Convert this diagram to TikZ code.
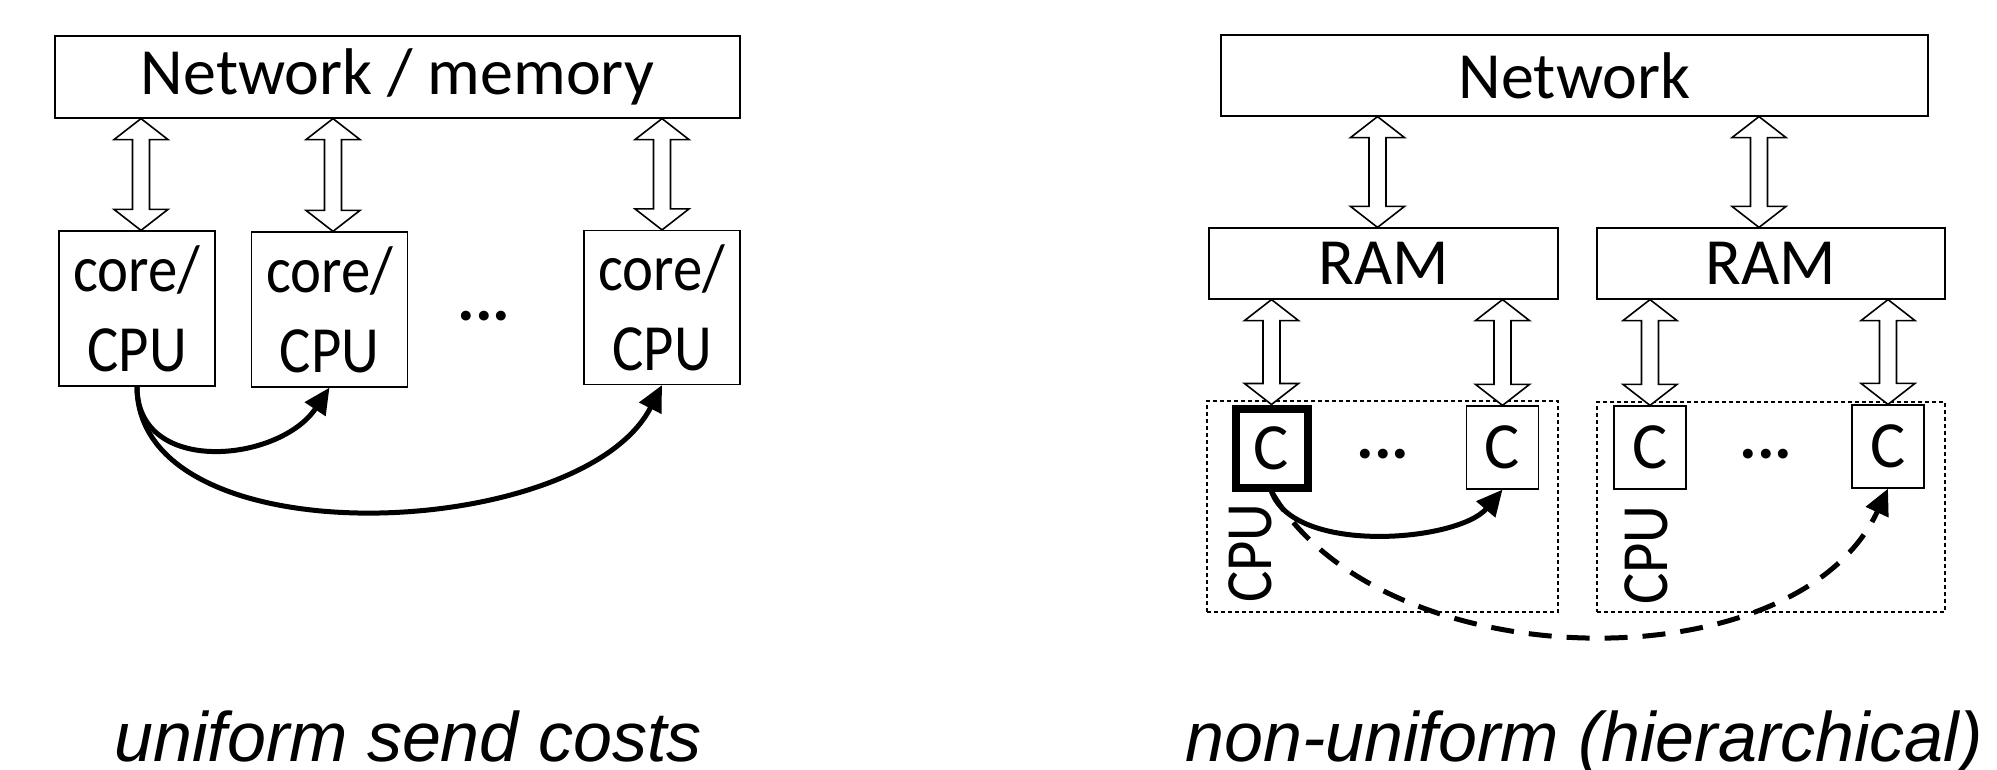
\documentclass[tikz,border=0pt]{standalone}
\usepackage{fontspec}
\setmainfont{Carlito}
\newfontfamily\capfont{Liberation Sans}
\usepackage{graphicx}
\usetikzlibrary{calc,arrows.meta}
\newcommand\sqz[1]{\scalebox{0.89}[1]{#1}}
% bidirectional block arrow: #1 = point on lower node, #2 = upper node border point
\newcommand\bidir[2]{%
  \draw[blockarrow] let \p1=#1, \p2=#2 in
    (\x1,\y1) -- (\x1+13.5pt,\y1+10.5pt) -- (\x1+4.25pt,\y1+10.5pt)
    -- (\x1+4.25pt,\y2-10.5pt) -- (\x1+13.5pt,\y2-10.5pt) -- (\x1,\y2)
    -- (\x1-13.5pt,\y2-10.5pt) -- (\x1-4.25pt,\y2-10.5pt)
    -- (\x1-4.25pt,\y1+10.5pt) -- (\x1-13.5pt,\y1+10.5pt) -- cycle;}
\begin{document}
\begin{tikzpicture}[x=0.5pt,y=-0.5pt,
  box/.style={draw,line width=0.6pt,fill=white,inner sep=0pt,font=\fontsize{33}{40}\selectfont},
  core/.style={box,minimum width=78pt,minimum height=77.5pt,align=center},
  cbox/.style={box,minimum width=36pt,minimum height=41.5pt},
  thickc/.style={cbox,line width=4pt,minimum height=39.5pt},
  cpugroup/.style={draw,line width=0.6pt,dash pattern=on 2pt off 1.5pt,inner sep=0pt},
  blockarrow/.style={draw,fill=white,line width=0.8pt,line join=miter},
  send/.style={line width=2.5pt,-{Triangle[length=13pt,width=12pt]}},
  remote/.style={send,dash pattern=on 11.5pt off 7.5pt},
  dots/.style={font=\fontsize{33}{40}\selectfont\bfseries,anchor=base,inner sep=0pt},
  cpulabel/.style={font=\fontsize{33}{40}\selectfont,rotate=90,inner sep=0pt},
  caption/.style={font=\fontsize{35}{42}\selectfont\capfont\itshape,anchor=base,inner sep=0pt}]
\fill[white] (0,0) rectangle (1997,770);
\useasboundingbox (0,0) rectangle (1997,770);

% ---------- left: uniform ----------
\node[box,minimum width=342.5pt,minimum height=41pt] (net1) at (397.5,77) {Network / memory};
\node[core] (c1) at (137,308.5) {\sqz{core/}\\\sqz{CPU}};
\node[core] (c2) at (329.5,309.5) {\sqz{core/}\\\sqz{CPU}};
\node[core,minimum height=77pt] (c3) at (662,307.5) {\sqz{core/}\\\sqz{CPU}};
\node[dots] (dl) at (484,321) {...};

\bidir{($(c1.north)+(4,0)$)}{(net1.south)}
\bidir{($(c2.north)+(3.5,0)$)}{(net1.south)}
\bidir{(c3.north)}{(net1.south)}

\draw[send] (c1.south) .. controls +(0,90) and +(-50,75) .. (c2.south);
\draw[send] (c1.south) .. controls +(0,175) and +(-80,157) .. (c3.south);

\node[caption] (cap1) at (408,761) {uniform send costs};

% ---------- right: hierarchical ----------
\node[box,minimum width=353.5pt,minimum height=40.5pt] (net2) at (1574.5,75.5) {Network};
\node[box,minimum width=174.5pt,minimum height=35.5pt] (ram1) at (1383.5,263.5) {RAM};
\node[box,minimum width=174pt,minimum height=35.5pt] (ram2) at (1771,263.5) {RAM};

\node[cpugroup,minimum width=175.5pt,minimum height=105.5pt] (g1) at (1382.5,506.5) {};
\node[cpugroup,minimum width=174pt,minimum height=105pt] (g2) at (1771,507) {};

\node[thickc] (k1) at (1271.5,448) {C};
\node[cbox] (k2) at (1502.5,447.5) {C};
\node[cbox] (k3) at (1650,447.5) {C};
\node[cbox] (k4) at (1888,446.5) {C};
\node[dots] (dr1) at (1383,458) {...};
\node[dots] (dr2) at (1766,458) {...};
\node[cpulabel] (p1) at (1250,553) {\sqz{CPU}};
\node[cpulabel] (p2) at (1646,555) {\sqz{CPU}};

\bidir{($(ram1.north)+(-6,0)$)}{(net2.south)}
\bidir{($(ram2.north)+(-12,0)$)}{(net2.south)}
\bidir{(k1.north)}{(ram1.south)}
\bidir{(k2.north)}{(ram1.south)}
\bidir{(k3.north)}{(ram2.south)}
\bidir{(k4.north)}{(ram2.south)}

\draw[send] (k1.south) .. controls +(23,64) and +(-44,52) .. (k2.south);
\draw[remote] (k1.south) .. controls +(109,189) and +(-92,198) .. (k4.south);

\node[caption] (cap2) at (1584,761) {non-uniform (hierarchical)};
\end{tikzpicture}
\end{document}
